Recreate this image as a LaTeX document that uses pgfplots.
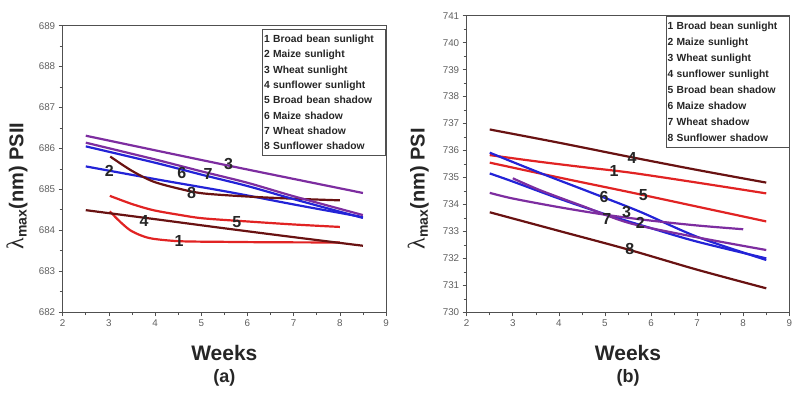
\documentclass[border=0pt]{standalone}
\usepackage{fontspec}
\setmainfont{Liberation Sans}
\newfontfamily\serifgreek{Liberation Serif}
\usepackage{pgfplots}
\pgfplotsset{compat=1.18}

\definecolor{cred}{RGB}{225,35,35}
\definecolor{cbrown}{RGB}{105,18,18}
\definecolor{cblue}{RGB}{35,35,215}
\definecolor{cpurple}{RGB}{125,45,160}
\definecolor{axgray}{RGB}{80,80,80}
\definecolor{tickgray}{RGB}{95,95,95}

\pgfplotsset{
 myax/.style={
  scale only axis,
  xmin=2, xmax=9,
  xtick={2,...,9},
  minor x tick num=1, minor y tick num=1,
  tick align=outside,
  xtick pos=left, ytick pos=left,
  major tick length=4pt, minor tick length=3pt,
  axis line style={axgray, line width=0.7pt},
  every tick/.style={axgray, line width=0.6pt},
  tick label style={font=\fontsize{9.8}{10}\selectfont, text=tickgray},
  /pgf/number format/assume math mode=true,
  /pgf/number format/1000 sep={},
  clip=false,
  every axis plot/.append style={line width=2.2pt, smooth, no markers},
 },
}
\tikzset{
 numlab/.style={font=\bfseries\fontsize{16}{16}\selectfont, text=black!85},
 leg/.style={draw=axgray, line width=0.6pt, anchor=north east, fill=white,
   inner xsep=1.5pt, inner ysep=0pt, text width=120pt, align=left,
   text=black!85},
}

\begin{document}
\begin{tikzpicture}
\useasboundingbox (0,0) rectangle (792pt,394pt);

% ---------------- (a) ----------------
\begin{axis}[myax, at={(62.7pt,82pt)}, anchor=south west,
  width=323.3pt, height=286.3pt,
  ymin=682, ymax=689, ytick={682,...,689}]
% 1 Broad bean sunlight
\addplot[cred] coordinates {(3.02,684.46) (3.24,684.21) (3.46,684.0) (3.7,683.87) (3.96,683.79) (4.54,683.73) (5.5,683.715) (6.5,683.705) (8,683.70)};
% 2 Maize sunlight
\addplot[cblue] coordinates {(2.5,685.56) (4,685.25) (5.62,684.93) (7,684.63) (8.5,684.32)};
% 4 sunflower sunlight
\addplot[cbrown] coordinates {(2.5,684.49) (4,684.27) (5.41,684.06) (7,683.83) (8.5,683.62)};
% 5 Broad bean shadow
\addplot[cred] coordinates {(3.02,684.84) (3.5,684.64) (3.96,684.49) (4.5,684.38) (5.04,684.29) (6.05,684.21) (7,684.14) (8,684.08)};
% 8 Sunflower shadow
\addplot[cbrown] coordinates {(3.03,685.80) (3.5,685.45) (3.96,685.19) (4.5,685.02) (5.04,684.90) (6.05,684.82) (7,684.77) (8,684.73)};
% 6 Maize shadow
\addplot[cblue] coordinates {(2.5,686.05) (4,685.65) (5,685.36) (6,685.08) (7,684.76) (8.5,684.30)};
% 7 Wheat shadow
\addplot[cpurple] coordinates {(2.5,686.14) (4,685.73) (5,685.44) (6,685.16) (7,684.83) (8.5,684.37)};
% 3 Wheat sunlight
\addplot[cpurple] coordinates {(2.5,686.31) (5.5,685.60) (8.5,684.91)};

\node[numlab] at (axis cs:5.59,685.62) {3};
\node[numlab] at (axis cs:4.58,685.40) {6};
\node[numlab] at (axis cs:5.15,685.38) {7};
\node[numlab] at (axis cs:3.01,685.44) {2};
\node[numlab] at (axis cs:4.79,684.91) {8};
\node[numlab] at (axis cs:3.76,684.22) {4};
\node[numlab] at (axis cs:5.77,684.19) {5};
\node[numlab] at (axis cs:4.52,683.73) {1};

\node[leg, minimum width=123.4pt, minimum height=125.7pt,
  font=\bfseries\fontsize{10.3}{15.33}\selectfont]
  at ([yshift=-3.6pt]rel axis cs:1,1)
  {1 Broad bean sunlight\\2 Maize sunlight\\3 Wheat sunlight\\4 sunflower sunlight\\5 Broad bean shadow\\6 Maize shadow\\7 Wheat shadow\\8 Sunflower shadow};

\node[rotate=90, font=\bfseries\fontsize{20}{20}\selectfont, text=black!85]
  at (rel axis cs:-0.141,0.44) {{\serifgreek\mdseries\fontsize{24}{24}\selectfont λ}\textsubscript{max}(nm) PSII};
\node[font=\bfseries\fontsize{21}{21}\selectfont, text=black!85] at (rel axis cs:0.5,-0.143) {Weeks};
\node[font=\bfseries\fontsize{18}{18}\selectfont, text=black!85] at (rel axis cs:0.5,-0.2305) {(a)};
\end{axis}

% ---------------- (b) ----------------
\begin{axis}[myax, at={(466.7pt,81.7pt)}, anchor=south west,
  width=322.6pt, height=296.6pt,
  ymin=730, ymax=741, ytick={730,...,741}]
% 1 Broad bean sunlight
\addplot[cred] coordinates {(2.5,735.83) (3.5,735.6) (4.5,735.39) (5.55,735.18) (7,734.81) (8.5,734.41)};
% 4 sunflower sunlight
\addplot[cbrown] coordinates {(2.5,736.78) (4,736.29) (5.55,735.76) (7,735.28) (8.5,734.81)};
% 5 Broad bean shadow
\addplot[cred] coordinates {(2.5,735.55) (4,735.00) (5.55,734.45) (7,733.92) (8.5,733.37)};
% 8 Sunflower shadow
\addplot[cbrown] coordinates {(2.5,733.71) (4,733.02) (5.5,732.33) (7,731.58) (8.5,730.89)};
% 2 Maize sunlight
\addplot[cblue] coordinates {(2.5,735.15) (3,734.85) (4,734.22) (5,733.64) (6,733.12) (7,732.62) (8.5,732.00)};
% 6 Maize shadow
\addplot[cblue] coordinates {(2.5,735.92) (3.59,735.17) (4.7,734.44) (5.76,733.73) (7,732.80) (8.5,731.94)};
% 7 Wheat shadow
\addplot[cpurple] coordinates {(2.5,734.43) (3,734.22) (4,733.90) (5,733.62) (6,733.40) (7,733.22) (8,733.08)};
% 3 Wheat sunlight
\addplot[cpurple] coordinates {(3,734.97) (3.59,734.53) (4.5,733.95) (5.55,733.30) (7,732.78) (8.5,732.31)};

\node[numlab] at (axis cs:5.59,735.71) {4};
\node[numlab] at (axis cs:5.20,735.24) {1};
\node[numlab] at (axis cs:5.83,734.33) {5};
\node[numlab] at (axis cs:4.98,734.26) {6};
\node[numlab] at (axis cs:5.47,733.72) {3};
\node[numlab] at (axis cs:5.04,733.46) {7};
\node[numlab] at (axis cs:5.77,733.30) {2};
\node[numlab] at (axis cs:5.54,732.33) {8};

\node[leg, minimum width=122.6pt, minimum height=131.7pt,
  font=\bfseries\fontsize{10.3}{15.95}\selectfont]
  at (rel axis cs:1,1)
  {1 Broad bean sunlight\\2 Maize sunlight\\3 Wheat sunlight\\4 sunflower sunlight\\5 Broad bean shadow\\6 Maize shadow\\7 Wheat shadow\\8 Sunflower shadow};

\node[rotate=90, font=\bfseries\fontsize{20}{20}\selectfont, text=black!85]
  at (rel axis cs:-0.15,0.416) {{\serifgreek\mdseries\fontsize{24}{24}\selectfont λ}\textsubscript{max}(nm) PSI};
\node[font=\bfseries\fontsize{21}{21}\selectfont, text=black!85] at (rel axis cs:0.5,-0.137) {Weeks};
\node[font=\bfseries\fontsize{18}{18}\selectfont, text=black!85] at (rel axis cs:0.5,-0.2215) {(b)};
\end{axis}
\end{tikzpicture}
\end{document}
